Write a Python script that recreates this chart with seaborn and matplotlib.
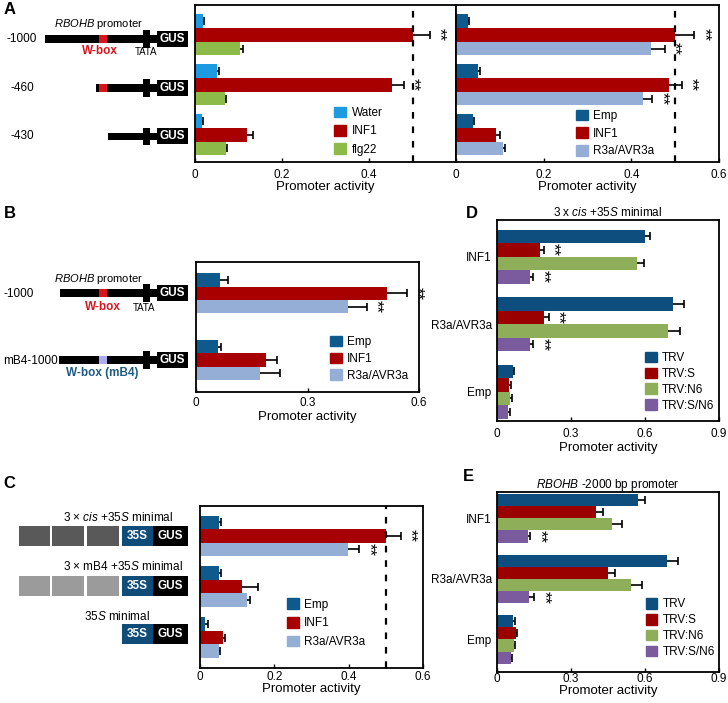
import numpy as np
import pandas as pd
import matplotlib
matplotlib.use("Agg")
import matplotlib.pyplot as plt
import matplotlib.patches as mpatches
import seaborn as sns

# ── Data ──────────────────────────────────────────────────────────────────────
A_ROWS = ["-1000", "-460", "-430"]

A1_SERIES = ["Water", "INF1", "flg22"]
A1_MEAN = [[0.018, 0.050, 0.015], [0.500, 0.452, 0.120], [0.103, 0.069, 0.071]]
A1_ERR  = [[0.003, 0.005, 0.003], [0.040, 0.028, 0.013], [0.007, 0.003, 0.002]]
A1_SIG  = [("INF1", "-1000"), ("INF1", "-460")]

EFF_SERIES = ["Emp", "INF1", "R3a/AVR3a"]
A2_MEAN = [[0.027, 0.050, 0.038], [0.500, 0.487, 0.092], [0.444, 0.427, 0.107]]
A2_ERR  = [[0.003, 0.005, 0.004], [0.044, 0.028, 0.008], [0.032, 0.021, 0.005]]
A2_SIG  = [("INF1", "-1000"), ("R3a/AVR3a", "-1000"), ("INF1", "-460"), ("R3a/AVR3a", "-460")]

B_ROWS = ["-1000", "mB4-1000"]
B_MEAN = [[0.064, 0.058], [0.515, 0.188], [0.408, 0.172]]
B_ERR  = [[0.022, 0.009], [0.054, 0.030], [0.052, 0.055]]
B_SIG  = [("INF1", "-1000"), ("R3a/AVR3a", "-1000")]

C_ROWS = ["3xcis", "3xmB4", "35S"]
C_MEAN = [[0.051, 0.051, 0.013], [0.500, 0.114, 0.061], [0.399, 0.126, 0.052]]
C_ERR  = [[0.005, 0.005, 0.009], [0.040, 0.041, 0.007], [0.030, 0.009, 0.003]]
C_SIG  = [("INF1", "3xcis"), ("R3a/AVR3a", "3xcis")]

DE_ROWS   = ["INF1", "R3a/AVR3a", "Emp"]
DE_SERIES = ["TRV", "TRV:S", "TRV:N6", "TRV:S/N6"]
D_MEAN = [[0.600, 0.716, 0.063], [0.174, 0.192, 0.049], [0.569, 0.694, 0.052], [0.133, 0.133, 0.045]]
D_ERR  = [[0.020, 0.043, 0.006], [0.016, 0.018, 0.006], [0.027, 0.048, 0.007], [0.013, 0.013, 0.006]]
D_SIG  = [("TRV:S", "INF1"), ("TRV:S", "R3a/AVR3a"), ("TRV:S/N6", "INF1"), ("TRV:S/N6", "R3a/AVR3a")]
E_MEAN = [[0.573, 0.691, 0.065], [0.403, 0.449, 0.078], [0.467, 0.546, 0.069], [0.124, 0.127, 0.055]]
E_ERR  = [[0.027, 0.045, 0.005], [0.027, 0.029, 0.004], [0.041, 0.043, 0.004], [0.011, 0.023, 0.005]]
E_SIG  = [("TRV:S/N6", "INF1"), ("TRV:S/N6", "R3a/AVR3a")]

# ── Style ─────────────────────────────────────────────────────────────────────
A1_COLORS  = ["#1E9BE0", "#A80000", "#8CBB4A"]
EFF_COLORS = ["#0F5A8C", "#A80000", "#94AED6"]
DE_COLORS  = ["#0D4E7E", "#9B0000", "#8FAE5A", "#7A5C9E"]

W, H = 728, 703
FS = 8.5

sns.set_theme(style="white")
plt.rcParams["font.family"] = ["Liberation Sans", "DejaVu Sans"]
plt.rcParams["mathtext.fontset"] = "custom"
plt.rcParams["mathtext.rm"] = "Liberation Sans"
plt.rcParams["mathtext.it"] = "Liberation Sans:italic"
plt.rcParams["mathtext.bf"] = "Liberation Sans:bold"
plt.rcParams["axes.linewidth"] = 1.3
plt.rcParams["axes.edgecolor"] = "black"
plt.rcParams["text.color"] = "black"
plt.rcParams["axes.labelcolor"] = "black"
plt.rcParams["xtick.color"] = "black"
plt.rcParams["ytick.color"] = "black"


def px_axes(fig, x0, y0, x1, y1):
    return fig.add_axes([x0 / W, 1 - y1 / H, (x1 - x0) / W, (y1 - y0) / H])


def long_df(rows, series, means):
    recs = []
    for s, vals in zip(series, means):
        for r, v in zip(rows, vals):
            recs.append({"construct": r, "series": s, "value": v})
    return pd.DataFrame(recs)


# ── Bar panels ────────────────────────────────────────────────────────────────
def bar_panel(ax, rows, series, means, errs, colors, sig, width, ylim, xmax,
              ticks, tick_pad, label_pad, leg_xy, leg_space, show_rows=False, ref=None):
    df = long_df(rows, series, means)
    sns.barplot(data=df, x="value", y="construct", hue="series", order=rows,
                hue_order=series, palette=dict(zip(series, colors)), orient="h",
                errorbar=None, width=width, saturation=1, linewidth=0,
                legend=False, ax=ax)

    bar_sets = list(ax.containers)   # copy: errorbar() appends new containers
    for i, cont in enumerate(bar_sets):
        ys = [b.get_y() + b.get_height() / 2 for b in cont]
        xs = [b.get_width() for b in cont]
        ax.errorbar(xs, ys, xerr=errs[i], fmt="none", ecolor="black",
                    elinewidth=1.2, capsize=2.8, capthick=1.2, zorder=0.5)
        for j, r in enumerate(rows):
            if (series[i], r) in sig:
                ax.annotate("**", xy=(xs[j] + errs[i][j], ys[j]), xytext=(1.5, 0),
                            textcoords="offset points", rotation=270,
                            ha="left", va="center", fontsize=12)

    if ref is not None:
        ax.axvline(ref, color="black", lw=1.6, ls=(0, (3, 3.5)), zorder=3)

    ax.set_xlim(0, xmax)
    ax.set_ylim(*ylim)
    ax.set_xticks(ticks, labels=[f"{t:g}" for t in ticks])
    ax.tick_params(axis="x", bottom=True, direction="in", length=3,
                   width=1, labelsize=FS, pad=tick_pad)
    ax.set_xlabel("Promoter activity", fontsize=9.5, labelpad=label_pad)
    ax.set_ylabel("")
    if show_rows:
        ax.tick_params(axis="y", left=False, length=0, labelsize=FS, pad=4)
    else:
        ax.set_yticks([])
    for sp in ax.spines.values():
        sp.set_visible(True)
        sp.set_color("black")

    handles = [mpatches.Patch(color=c, label=s) for s, c in zip(series, colors)]
    ax.legend(handles=handles, loc="lower left", bbox_to_anchor=leg_xy,
              frameon=False, handlelength=1.0, handleheight=1.0,
              handletextpad=0.45, labelspacing=leg_space, borderpad=0,
              borderaxespad=0, fontsize=FS)


# ── Construct diagrams (pixel coordinates) ───────────────────────────────────
def rect(dax, x0, x1, yc, h, color):
    dax.add_patch(mpatches.Rectangle((x0, yc - h / 2), x1 - x0, h,
                                     facecolor=color, edgecolor="none"))


def promoter_row(dax, x_start, yc, wbox_color):
    rect(dax, x_start, 157, yc, 7.5, "black")
    if wbox_color:
        rect(dax, 98.5, 106.8, yc, 7.5, wbox_color)
    rect(dax, 143, 149.7, yc, 17.5, "black")
    rect(dax, 156.7, 187.5, yc, 16, "black")
    dax.text(172, yc, "GUS", color="white", fontweight="bold", fontsize=FS,
             ha="center", va="center")


def box_row(dax, yc, gray):
    if gray:
        for x0, x1 in [(19, 50), (52.3, 84.3), (86.7, 119)]:
            rect(dax, x0, x1, yc, 20, gray)
    rect(dax, 121.5, 153.3, yc, 20, "#0F4C78")
    rect(dax, 153.3, 187.7, yc, 20, "black")
    dax.text(137.4, yc, "35S", color="white", fontweight="bold", fontsize=FS,
             ha="center", va="center")
    dax.text(170.5, yc, "GUS", color="white", fontweight="bold", fontsize=FS,
             ha="center", va="center")


def draw_diagrams(dax):
    red = "#D9141C"
    # A
    dax.text(99, 24, r"$\it{RBOHB}$ promoter", fontsize=8, ha="center", va="center")
    for lab, x_start, yc, wb in [("-1000", 45, 38.9, red), ("-460", 96, 88, red),
                                 ("-430", 107.7, 136.3, None)]:
        promoter_row(dax, x_start, yc, wb)
        dax.text(22, yc, lab, fontsize=FS, ha="center", va="center")
    dax.text(100, 51, "W-box", color=red, fontweight="bold", fontsize=FS,
             ha="center", va="center")
    dax.text(146, 52, "TATA", fontsize=7, ha="center", va="center")

    # B
    dax.text(99, 279.3, r"$\it{RBOHB}$ promoter", fontsize=8, ha="center", va="center")
    promoter_row(dax, 60, 293, red)
    promoter_row(dax, 59, 360, "#B0AAEE")
    dax.text(3, 294, "-1000", fontsize=FS, ha="left", va="center")
    dax.text(3, 360.5, "mB4-1000", fontsize=FS, ha="left", va="center")
    dax.text(102.7, 306.7, "W-box", color=red, fontweight="bold", fontsize=FS,
             ha="center", va="center")
    dax.text(144.3, 308, "TATA", fontsize=7, ha="center", va="center")
    dax.text(102.7, 373.3, "W-box (mB4)", color="#1F5A85", fontweight="bold",
             fontsize=FS, ha="center", va="center")

    # C
    dax.text(118, 517.7, r"3 × $\it{cis}$ +$\it{35S}$ minimal", fontsize=FS,
             ha="center", va="center")
    box_row(dax, 536, "#595959")
    dax.text(123, 566.7, r"3 × mB4 +$\it{35S}$ minimal", fontsize=FS,
             ha="center", va="center")
    box_row(dax, 585.7, "#9B9B9B")
    dax.text(117, 616, r"$\it{35S}$ minimal", fontsize=FS, ha="center", va="center")
    box_row(dax, 633.8, None)

    # panel letters
    for lab, x, y in [("A", 4, 14), ("B", 4, 218.3), ("C", 3, 487.7),
                      ("D", 466, 218.3), ("E", 463.3, 480.7)]:
        dax.text(x, y, lab, fontsize=12, fontweight="bold", ha="left", va="baseline")


# ── Main ──────────────────────────────────────────────────────────────────────
if __name__ == "__main__":
    fig = plt.figure(figsize=(W / 100, H / 100), dpi=100)

    dax = fig.add_axes([0, 0, 1, 1])
    dax.set_xlim(0, W)
    dax.set_ylim(H, 0)
    dax.axis("off")
    draw_diagrams(dax)

    ax_a1 = px_axes(fig, 195, 5, 456, 162.3)
    bar_panel(ax_a1, A_ROWS, A1_SERIES, A1_MEAN, A1_ERR, A1_COLORS, A1_SIG,
              0.82, (2.55, -0.6), 0.6, [0, 0.2, 0.4], 4.5, 0, (0.534, 0.043), 0.5,
              ref=0.5)

    ax_a2 = px_axes(fig, 456, 5, 719, 162.3)
    bar_panel(ax_a2, A_ROWS, EFF_SERIES, A2_MEAN, A2_ERR, EFF_COLORS, A2_SIG,
              0.82, (2.55, -0.6), 0.6, [0, 0.2, 0.4, 0.6], 4.5, 0, (0.457, 0.032), 0.45,
              ref=0.5)

    ax_b = px_axes(fig, 196, 261.7, 419, 391.7)
    bar_panel(ax_b, B_ROWS, EFF_SERIES, B_MEAN, B_ERR, EFF_COLORS, B_SIG,
              0.6, (1.476, -0.474), 0.6, [0, 0.3, 0.6], 4, 1.5, (0.60, 0.077), 0.38)

    ax_c = px_axes(fig, 200, 505.7, 423, 667.7)
    bar_panel(ax_c, C_ROWS, EFF_SERIES, C_MEAN, C_ERR, EFF_COLORS, C_SIG,
              0.8, (2.593, -0.593), 0.6, [0, 0.2, 0.4, 0.6], 2.5, 0, (0.39, 0.12), 0.55,
              ref=0.5)

    ax_d = px_axes(fig, 497.3, 220, 718.5, 420.7)
    bar_panel(ax_d, DE_ROWS, DE_SERIES, D_MEAN, D_ERR, DE_COLORS, D_SIG,
              0.8, (2.43, -0.544), 0.9, [0, 0.3, 0.6, 0.9], 5.5, 1, (0.667, 0.045), 0.3,
              show_rows=True)
    ax_d.set_title(r"3 x $\it{cis}$ +$\it{35S}$ minimal", fontsize=FS, pad=3)

    ax_e = px_axes(fig, 497.3, 491.7, 718.5, 671.5)
    bar_panel(ax_e, DE_ROWS, DE_SERIES, E_MEAN, E_ERR, DE_COLORS, E_SIG,
              0.8, (2.53, -0.44), 0.9, [0, 0.3, 0.6, 0.9], 1, 0, (0.67, 0.075), 0.3,
              show_rows=True)
    ax_e.set_title(r"$\it{RBOHB}$ -2000 bp promoter", fontsize=FS, pad=3)

    fig.savefig("out.png", dpi=100)
    plt.close(fig)
